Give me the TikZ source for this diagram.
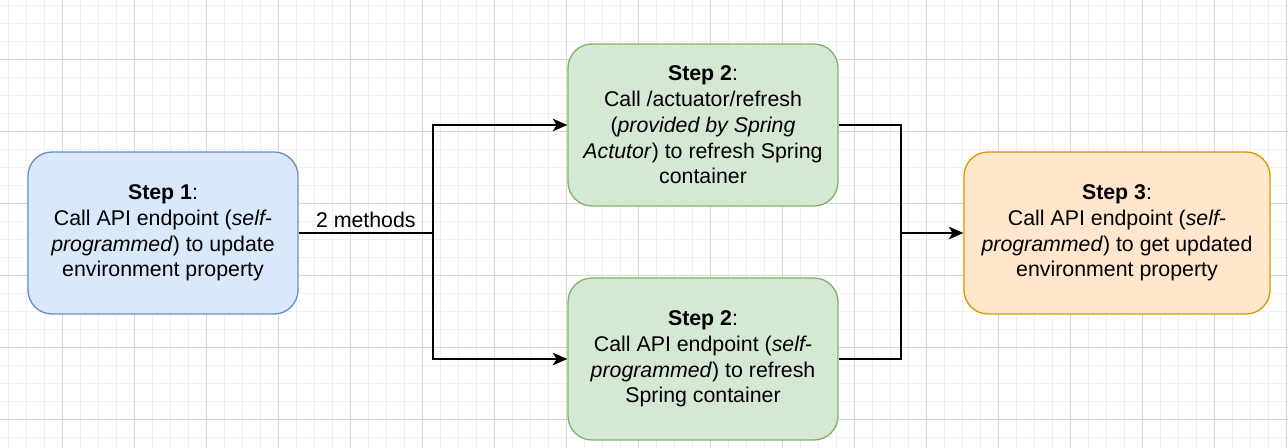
\documentclass[tikz,border=0pt]{standalone}
\usepackage{fontspec}
\setmainfont{Liberation Sans}
\usetikzlibrary{arrows.meta}

\definecolor{blueFill}{HTML}{DAE8FC}
\definecolor{blueLine}{HTML}{6C8EBF}
\definecolor{greenFill}{HTML}{D5E8D4}
\definecolor{greenLine}{HTML}{82B366}
\definecolor{orangeFill}{HTML}{FFE6CC}
\definecolor{orangeLine}{HTML}{D79B00}
\definecolor{gridMinor}{HTML}{F0F0F0}
\definecolor{gridMajor}{HTML}{D6D6D6}

\begin{document}
\begin{tikzpicture}[x=0.75pt,y=-0.75pt,>={Stealth[length=11pt,width=9.5pt,inset=3pt]},
                    font=\fontsize{16}{19.3}\selectfont,
                    stepbox/.style={draw, rounded corners=18pt, line width=1pt,
                      minimum width=202.5pt, minimum height=121.5pt,
                      inner sep=0pt, align=center},
                    link/.style={line width=1.2pt, black}]
   % background grid
   \useasboundingbox[fill=white] (0,0) rectangle (1288,448);
   \foreach \k in {0,...,71} \draw[gridMinor, line width=0.75pt] ({8.3+18*\k},0) -- ({8.3+18*\k},448);
   \foreach \k in {0,...,24} \draw[gridMinor, line width=0.75pt] (0,{5.5+18*\k}) -- (1288,{5.5+18*\k});
   \foreach \k in {-1,...,17} \draw[gridMajor, line width=0.75pt] ({62.3+72*\k},0) -- ({62.3+72*\k},448);
   \foreach \k in {0,...,5} \draw[gridMajor, line width=0.75pt] (0,{59.5+72*\k}) -- (1288,{59.5+72*\k});

   \node[stepbox, fill=blueFill, draw=blueLine] (step_1) at (163,233)
      {\textbf{Step 1}:\\Call API endpoint (\textit{self-}\\\textit{programmed}) to update\\environment property};
   \node[stepbox, fill=greenFill, draw=greenLine] (step_2a) at (703,125)
      {\textbf{Step 2}:\\Call /actuator/refresh\\(\textit{provided by Spring}\\\textit{Actutor}) to refresh Spring\\container};
   \node[stepbox, fill=greenFill, draw=greenLine] (step_2b) at (703,359)
      {\textbf{Step 2}:\\Call API endpoint (\textit{self-}\\\textit{programmed}) to refresh\\Spring container};
   \node[stepbox, fill=orangeFill, draw=orangeLine, minimum width=229.5pt] (step_3) at (1117,233)
      {\textbf{Step 3}:\\Call API endpoint (\textit{self-}\\\textit{programmed}) to get updated\\environment property};

   \coordinate (split) at (433,233);
   \coordinate (merge) at (901,233);

   \draw[link] (step_1.east) -- node[above] {2 methods} (split);
   \draw[link,->] (split) |- (step_2a.west);
   \draw[link,->] (split) |- (step_2b.west);
   \draw[link] (step_2a.east) -| (merge);
   \draw[link] (step_2b.east) -| (merge);
   \draw[link,->] (merge) -- (step_3.west);
\end{tikzpicture}
\end{document}
